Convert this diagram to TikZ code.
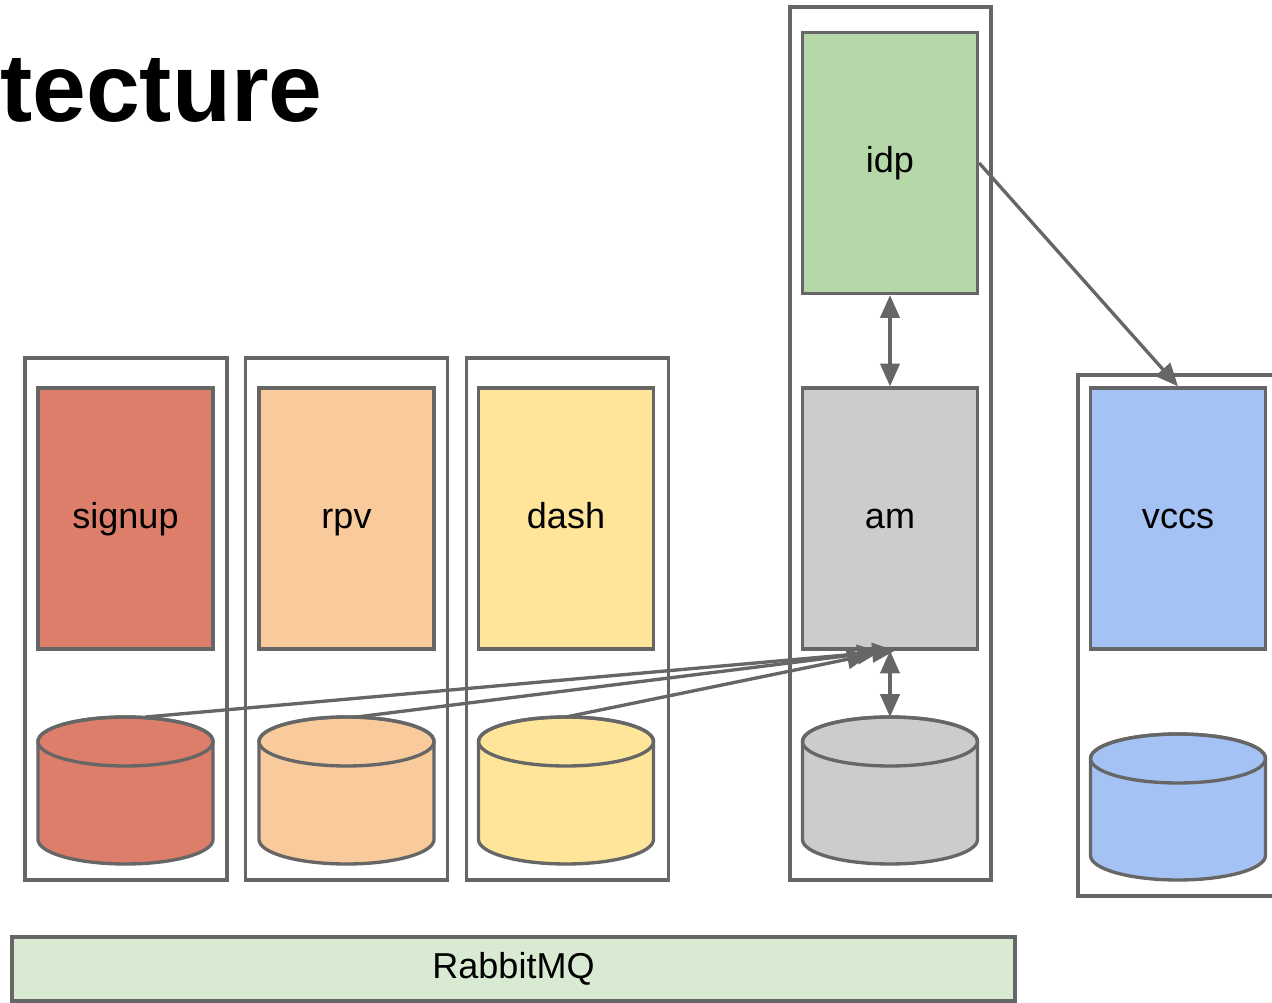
\documentclass[tikz,border=0pt]{standalone}
\usepackage{fontspec}
\setmainfont{Liberation Sans}
\usetikzlibrary{arrows.meta,calc}
\usepackage{color}
\definecolor{edgegray}{HTML}{666666}
\definecolor{signupred}{HTML}{DD7E6B}
\definecolor{rpvorange}{HTML}{F9CB9C}
\definecolor{dashyellow}{HTML}{FFE599}
\definecolor{amgray}{HTML}{CCCCCC}
\definecolor{idpgreen}{HTML}{B6D7A8}
\definecolor{vccsblue}{HTML}{A4C2F4}
\definecolor{mqgreen}{HTML}{D9EAD3}

\begin{document}
\begin{tikzpicture}[x=0.02cm,y=-0.02cm,
  holder/.style={draw=edgegray,line width=1.9pt,inner sep=0,minimum width=4.04cm,minimum height=10.44cm},
  svcbox/.style={draw=edgegray,line width=1.9pt,inner sep=0,minimum width=3.5cm,minimum height=5.22cm,
    text height=1.1em,text depth=0pt,font=\fontsize{20.5}{24}\selectfont},
  dbline/.style={draw=edgegray,line width=1.9pt},
  link/.style={draw=edgegray,line width=1.9pt,-{Triangle[length=13pt,width=11pt]}},
  twoway/.style={draw=edgegray,line width=1.9pt,{Triangle[length=13pt,width=11pt]}-{Triangle[length=13pt,width=11pt]}}]

\useasboundingbox (0,0) rectangle (1272,1003);

%Title
\node[anchor=base west,inner sep=0,font=\fontsize{55}{60}\selectfont\bfseries] (title) at (0,122) {tecture};

%Drawing containers
\node[holder] (signupholder) at (126,619) {};
\node[holder] (rpvholder) at (346.5,619) {};
\node[holder] (dashholder) at (567.5,619) {};
\node[holder,minimum width=4.02cm,minimum height=17.46cm] (amholder) at (890.5,443.5) {};
\node[holder,minimum width=4.44cm,minimum height=10.42cm] (vccsholder) at (1189,635.5) {};

%Drawing services
\node[svcbox,fill=signupred] (signup) at (125.5,518.5) {signup};
\node[svcbox,fill=rpvorange] (rpv) at (346.5,518.5) {rpv};
\node[svcbox,fill=dashyellow] (dash) at (566,518.5) {dash};
\node[svcbox,fill=idpgreen] (idp) at (890,163) {idp};
\node[svcbox,fill=amgray] (am) at (890,518.5) {am};
\node[svcbox,fill=vccsblue] (vccs) at (1178,518.5) {vccs};

%Drawing databases (name/colour/centre x/top y/bottom y)
\foreach \db/\col/\cx/\ytop/\ybot in {signupdb/signupred/125.5/717/864, rpvdb/rpvorange/346.5/717/864,
    dashdb/dashyellow/566/717/864, amdb/amgray/890/717/864, vccsdb/vccsblue/1178/734/880}{
  \filldraw[dbline,fill=\col] (\cx-87.5,\ytop+24.5) -- (\cx-87.5,\ybot-24.5)
    arc[start angle=180,end angle=360,x radius=1.75cm,y radius=0.49cm] -- (\cx+87.5,\ytop+24.5)
    arc[start angle=0,end angle=180,x radius=1.75cm,y radius=0.49cm] -- cycle;
  \draw[dbline] (\cx,\ytop+24.5) ellipse[x radius=1.75cm,y radius=0.49cm];
  \coordinate (\db) at (\cx,\ytop);
}

%Message bus
\node[draw=edgegray,line width=1.9pt,fill=mqgreen,minimum width=20.06cm,minimum height=1.28cm,inner sep=0,
  text height=1.1em,text depth=0pt,font=\fontsize{20.5}{24}\selectfont] (mq) at (513.5,969) {RabbitMQ};

%Drawing connections
\draw[link] ($(signupdb)+(20,0)$) -- ($(am.south)+(5,0)$);
\draw[link] ($(rpvdb)+(10,0)$) -- ($(am.south)+(-10,1)$);
\draw[link] (dashdb) -- ($(am.south)+(-20,4)$);
\draw[twoway] (am.south) -- (amdb);
\draw[twoway] (idp.south) -- (am.north);
\draw[link] (idp.east) -- (vccs.north);
\end{tikzpicture}
\end{document}
